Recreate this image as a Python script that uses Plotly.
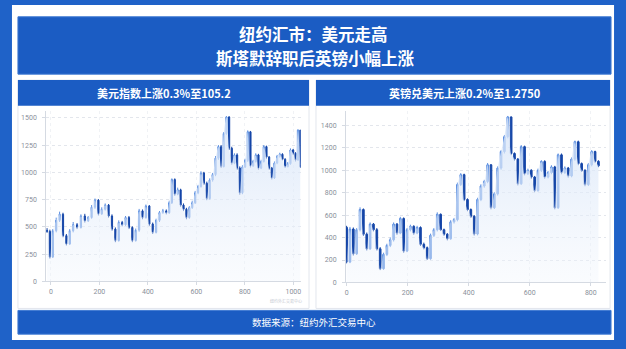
import plotly.graph_objects as go

W, H = 626, 349

title_line1 = "纽约汇市：美元走高"
title_line2 = "斯塔默辞职后英镑小幅上涨"
left_title = "美元指数上涨0.3%至105.2"
right_title = "英镑兑美元上涨0.2%至1.2750"
footer_text = "数据来源：纽约外汇交易中心"

# ---- left chart (美元指数) ----
l_x = [-16, -4, 8, 22, 36, 50, 64, 78, 92, 108, 124, 140, 154, 168, 182, 196, 210, 224, 238,
       252, 266, 280, 294, 308, 322, 336, 350, 364, 378, 392, 406, 420, 434, 448, 462, 476, 488, 499, 511,
       523, 535, 547, 559, 571, 583, 595, 607, 619, 631, 643, 655, 667, 679, 691, 702, 713, 724, 735, 746,
       757, 768, 779, 790, 801, 812, 823, 834, 845, 856, 867, 878, 889, 900, 911, 922, 933, 944, 955, 966,
       977, 988, 999, 1009, 1019, 1029]
l_open = [470, 459, 224, 465, 560, 616, 420, 344, 465, 520, 495, 600, 556, 586, 680, 746, 620, 662, 700,
          600, 480, 375, 541, 520, 586, 495, 375, 470, 647, 586, 692, 526, 450, 560, 631, 647, 630, 722, 934,
          800, 840, 700, 662, 586, 677, 722, 813, 870, 994, 900, 760, 930, 980, 1130, 1236, 1054, 1356, 1508,
          1221, 1085, 1160, 1040, 813, 1050, 1110, 1372, 1060, 1100, 1160, 1039, 1100, 1236, 1140, 1039, 949,
          1085, 1145, 1166, 1120, 1054, 1080, 1205, 1175, 1115, 1387]
l_close = [459, 224, 465, 560, 616, 420, 344, 465, 520, 495, 600, 556, 586, 680, 746, 620, 662, 700, 600,
           480, 375, 541, 520, 586, 495, 375, 470, 647, 586, 692, 526, 450, 560, 631, 647, 630, 722, 934, 800,
           840, 700, 662, 586, 677, 722, 813, 870, 994, 900, 760, 930, 980, 1130, 1236, 1054, 1356, 1508, 1221,
           1085, 1160, 1040, 813, 1050, 1110, 1372, 1060, 1100, 1160, 1039, 1100, 1236, 1140, 1039, 949, 1085,
           1145, 1166, 1120, 1054, 1080, 1205, 1175, 1115, 1387, 1051]
l_high = [490, 475, 480, 585, 640, 630, 435, 480, 545, 535, 615, 620, 600, 700, 760, 755, 680, 715, 710,
          615, 495, 560, 555, 600, 600, 505, 485, 665, 660, 705, 700, 540, 575, 645, 665, 660, 740, 945, 945,
          860, 850, 715, 675, 690, 740, 830, 885, 1010, 1005, 915, 945, 995, 1150, 1250, 1250, 1370, 1515, 1515,
          1235, 1175, 1175, 1055, 1065, 1125, 1385, 1380, 1115, 1175, 1170, 1115, 1250, 1245, 1150, 1050, 1100,
          1160, 1180, 1175, 1130, 1095, 1220, 1215, 1185, 1395, 1390]
l_low = [445, 210, 215, 450, 545, 405, 330, 335, 450, 480, 485, 540, 545, 575, 665, 605, 610, 650, 585,
         465, 360, 365, 505, 510, 480, 360, 365, 455, 570, 575, 510, 435, 440, 545, 620, 615, 620, 710, 785,
         790, 685, 645, 570, 575, 665, 710, 800, 860, 885, 745, 750, 915, 965, 1115, 1040, 1045, 1345, 1205,
         1070, 1075, 1025, 795, 800, 1040, 1095, 1045, 1050, 1090, 1025, 1030, 1090, 1125, 1025, 935, 940,
         1075, 1135, 1110, 1040, 1045, 1070, 1160, 1100, 1105, 1040]
l_yticks = [0, 250, 500, 750, 1000, 1250, 1500]
l_xticks = [0, 200, 400, 600, 800, 1000]

# ---- right chart (英镑兑美元) ----
r_x = [0, 11, 22, 33, 44, 55, 66, 77, 88, 99, 110, 121, 132, 143, 154, 165, 176, 187, 198, 209,
       220, 231, 242, 253, 264, 275, 286, 297, 308, 319, 330, 341, 352, 363, 374, 385, 396, 407, 418, 429,
       440, 451, 462, 473, 484, 495, 506, 517, 528, 539, 550, 561, 572, 583, 594, 605, 616, 627, 638, 649,
       660, 671, 682, 693, 704, 715, 726, 737, 748, 759, 770, 781, 792, 803, 814, 825]
r_open = [491, 182, 476, 256, 470, 650, 430, 300, 520, 470, 300, 123, 250, 330, 380, 520, 440, 570, 280, 470,
          500, 440, 490, 340, 310, 212, 420, 470, 608, 470, 430, 390, 540, 560, 873, 961, 740, 650, 590, 432,
          740, 860, 900, 1049, 667, 790, 1020, 1167, 1300, 1476, 1150, 1100, 880, 1211, 970, 1000, 940, 820,
          1000, 1079, 940, 980, 1030, 667, 1138, 980, 1020, 950, 1100, 1255, 1060, 1000, 873, 1050, 1167, 1080]
r_close = [182, 476, 256, 470, 650, 430, 300, 520, 470, 300, 123, 250, 330, 380, 520, 440, 570, 280, 470, 500,
           440, 490, 340, 310, 212, 420, 470, 608, 470, 430, 390, 540, 560, 873, 961, 740, 650, 590, 432, 740,
           860, 900, 1049, 667, 790, 1020, 1167, 1300, 1476, 1150, 1100, 880, 1211, 970, 1000, 940, 820, 1000,
           1079, 940, 980, 1030, 667, 1138, 980, 1020, 950, 1100, 1255, 1060, 1000, 873, 1050, 1167, 1080, 1040]
r_high = [505, 495, 490, 485, 670, 660, 445, 535, 530, 485, 315, 265, 345, 400, 535, 530, 585, 580, 485, 515,
          510, 505, 500, 355, 320, 435, 485, 625, 615, 480, 440, 555, 575, 890, 975, 970, 750, 660, 600, 755,
          875, 915, 1065, 1055, 805, 1035, 1180, 1315, 1485, 1480, 1160, 1110, 1225, 1220, 1015, 1010, 950, 1015,
          1090, 1090, 995, 1045, 1040, 1150, 1150, 1035, 1030, 1115, 1265, 1265, 1070, 1010, 1065, 1180, 1175, 1090]
r_low = [170, 172, 240, 245, 455, 415, 285, 290, 455, 285, 110, 113, 235, 315, 365, 425, 430, 265, 270, 455,
         425, 430, 325, 295, 200, 202, 405, 455, 458, 415, 375, 380, 525, 545, 860, 725, 635, 575, 418, 420,
         725, 845, 885, 652, 655, 775, 1005, 1150, 1285, 1135, 1085, 865, 870, 955, 958, 925, 805, 808,
         985, 925, 928, 965, 652, 655, 965, 968, 935, 938, 1085, 1045, 985, 858, 860, 1035, 1065, 1028]
r_yticks = [0, 200, 400, 600, 800, 1000, 1200, 1400]
r_xticks = [0, 200, 400, 600, 800]

BLUE = "#1b5cc3"
DARK = "#1546a8"
LIGHT = "#5a8ee0"

def px_x(p):
    return p / W

def px_y(p):
    return 1 - p / H

fig = go.Figure()

fill_grad = dict(type="vertical",
                 colorscale=[[0, "rgba(240,245,252,0.35)"], [1, "rgba(214,228,248,0.85)"]])

fig.add_trace(go.Scatter(x=l_x, y=l_close, mode="lines", line=dict(width=0, shape="spline", smoothing=0.8),
                         fill="tozeroy", fillgradient=fill_grad, hoverinfo="skip", showlegend=False,
                         xaxis="x", yaxis="y"))
fig.add_trace(go.Candlestick(x=l_x, open=l_open, high=l_high, low=l_low, close=l_close,
                             increasing=dict(line=dict(color=LIGHT, width=1), fillcolor=LIGHT),
                             decreasing=dict(line=dict(color=DARK, width=1), fillcolor=DARK),
                             whiskerwidth=0, showlegend=False, xaxis="x", yaxis="y"))
fig.add_trace(go.Scatter(x=r_x, y=r_close, mode="lines", line=dict(width=0, shape="spline", smoothing=0.8),
                         fill="tozeroy", fillgradient=fill_grad, hoverinfo="skip", showlegend=False,
                         xaxis="x2", yaxis="y2"))
fig.add_trace(go.Candlestick(x=r_x, open=r_open, high=r_high, low=r_low, close=r_close,
                             increasing=dict(line=dict(color=LIGHT, width=1), fillcolor=LIGHT),
                             decreasing=dict(line=dict(color=DARK, width=1), fillcolor=DARK),
                             whiskerwidth=0, showlegend=False, xaxis="x2", yaxis="y2"))

tickfont = dict(family="Roboto, 'Noto Sans', sans-serif", size=7, color="#8a909a")
axis_common = dict(showline=True, linecolor="#d5dae2", linewidth=1, ticks="outside", ticklen=3,
                   tickcolor="#d5dae2", tickfont=tickfont, zeroline=False)

shapes = []
def rect(x0, y0, x1, y1, fill, line=None):
    shapes.append(dict(type="rect", xref="paper", yref="paper", x0=px_x(x0), x1=px_x(x1),
                       y0=px_y(y1), y1=px_y(y0), fillcolor=fill,
                       line=dict(color=line or fill, width=1 if line else 0), layer="below"))

rect(11, 5, 615, 344, "#ffffff")
rect(17, 17, 612, 75, BLUE, "#3d78d2")
rect(17, 81, 309, 312, "#ffffff", "#e2e6ed")
rect(316, 81, 611, 312, "#ffffff", "#e2e6ed")
rect(17, 81, 309, 107, BLUE)
rect(316, 81, 611, 107, BLUE)
rect(17, 314, 612, 338, BLUE, "#3d78d2")

cjk = "'Noto Sans CJK SC', 'Noto Sans', sans-serif"
annotations = [
    dict(text="<b>%s</b>" % title_line1, x=px_x(313), y=px_y(34), xref="paper", yref="paper",
         showarrow=False, font=dict(family=cjk, size=16.5, color="white"), xanchor="center", yanchor="middle"),
    dict(text="<b>%s</b>" % title_line2, x=px_x(316), y=px_y(58.5), xref="paper", yref="paper",
         showarrow=False, font=dict(family=cjk, size=16.5, color="white"), xanchor="center", yanchor="middle"),
    dict(text="<b>%s</b>" % left_title, x=px_x(164), y=px_y(94), xref="paper", yref="paper",
         showarrow=False, font=dict(family=cjk, size=11, color="white"), xanchor="center", yanchor="middle"),
    dict(text="<b>%s</b>" % right_title, x=px_x(465), y=px_y(94), xref="paper", yref="paper",
         showarrow=False, font=dict(family=cjk, size=11, color="white"), xanchor="center", yanchor="middle"),
    dict(text=footer_text, x=px_x(314), y=px_y(326), xref="paper", yref="paper",
         showarrow=False, font=dict(family=cjk, size=9.5, color="white"), xanchor="center", yanchor="middle"),
    dict(text="纽约外汇交易中心", x=px_x(304), y=px_y(304), xref="paper", yref="paper",
         showarrow=False, font=dict(family=cjk, size=4, color="#c4c8d0"), xanchor="right", yanchor="middle"),
]

fig.update_layout(
    width=W, height=H, autosize=False,
    margin=dict(l=0, r=0, t=0, b=0),
    paper_bgcolor="#1f62c8", plot_bgcolor="rgba(0,0,0,0)",
    boxgap=0.3,
    shapes=shapes, annotations=annotations,
    xaxis=dict(domain=[px_x(45.4), px_x(300.6)], range=[-19, 1030], anchor="y",
               tickvals=l_xticks, showgrid=True, gridcolor="#f0f2f5", griddash="dot",
               rangeslider=dict(visible=False), **axis_common),
    yaxis=dict(domain=[px_y(284.7), px_y(112.6)], range=[0, 1560], anchor="x",
               tickvals=l_yticks, showgrid=True, gridcolor="#e3e6ec", griddash="dot",
               ticklabelstandoff=4, **axis_common),
    xaxis2=dict(domain=[px_x(346.1), px_x(607.0)], range=[-2, 850], anchor="y2",
                tickvals=r_xticks, showgrid=True, gridcolor="#f0f2f5", griddash="dot",
                rangeslider=dict(visible=False), **axis_common),
    yaxis2=dict(domain=[px_y(285.7), px_y(112.2)], range=[0, 1530], anchor="x2",
                tickvals=r_yticks, showgrid=True, gridcolor="#e3e6ec", griddash="dot",
                ticklabelstandoff=4, **axis_common),
)

fig.write_html("out.html")
